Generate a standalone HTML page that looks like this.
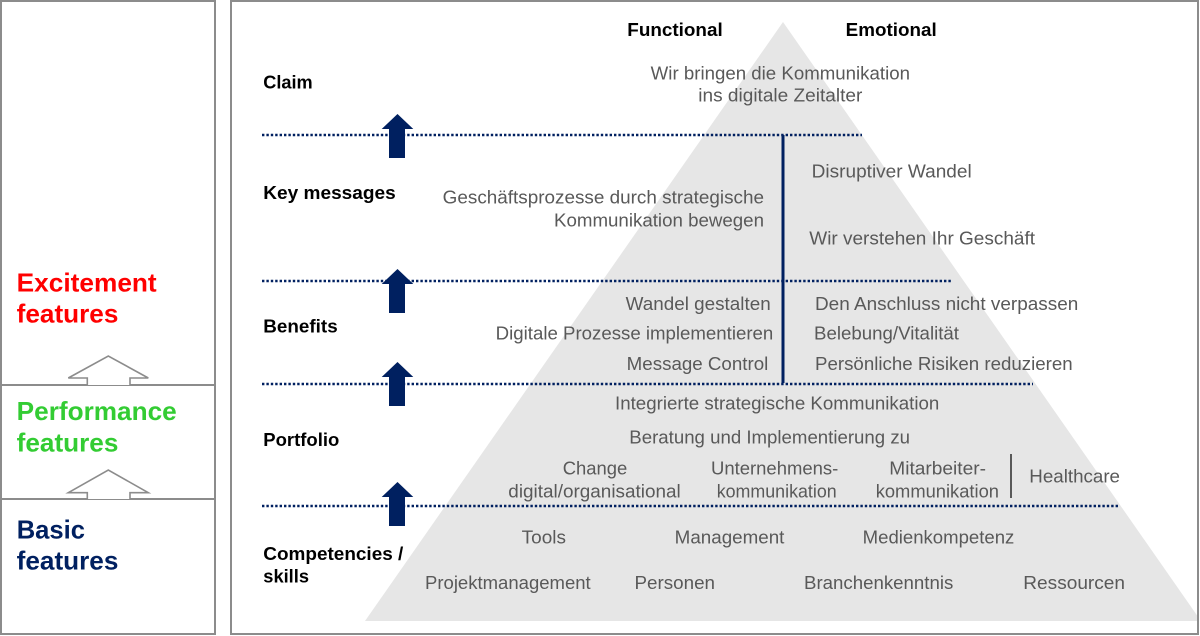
<!DOCTYPE html>
<html>
<head>
<meta charset="utf-8">
<style>
html,body{margin:0;padding:0;background:#fff;}
svg{display:block;}
text{font-family:"Liberation Sans",Arial,sans-serif;}
.g{fill:#595959;font-size:18.5px;}
.b{fill:#000;font-size:18.5px;font-weight:bold;}
.l{font-size:26px;font-weight:bold;}
</style>
</head>
<body>
<svg width="1200" height="636" viewBox="0 0 1200 636" xmlns="http://www.w3.org/2000/svg">
  <!-- triangle -->
  <polygon points="783,22 365,621 1201,621" fill="#e6e6e6"/>
  <rect x="1199" y="0" width="1" height="636" fill="#fff"/>

  <!-- frames -->
  <rect x="1" y="1" width="214" height="633" fill="none" stroke="#8c8c8c" stroke-width="2"/>
  <rect x="231" y="1" width="967" height="633" fill="none" stroke="#8c8c8c" stroke-width="2"/>

  <!-- left panel separators -->
  <line x1="1" y1="385" x2="215" y2="385" stroke="#8c8c8c" stroke-width="2"/>
  <line x1="1" y1="499" x2="215" y2="499" stroke="#8c8c8c" stroke-width="2"/>

  <!-- hollow arrows -->
  <polyline points="87.3,385 87.3,378 68.3,378 108.3,356 148.3,378 130,378 130,385" fill="#fff" stroke="#8c8c8c" stroke-width="1.6"/>
  <polyline points="87.3,499 87.3,492.7 68.3,492.7 108.3,470 148.3,492.7 130,492.7 130,499" fill="#fff" stroke="#8c8c8c" stroke-width="1.6"/>

  <!-- left labels -->
  <text class="l" x="16.7" y="291.7" fill="#ff0000" textLength="140" lengthAdjust="spacingAndGlyphs">Excitement</text>
  <text class="l" x="16.7" y="322.7" fill="#ff0000" textLength="101.7" lengthAdjust="spacingAndGlyphs">features</text>
  <text class="l" x="16.7" y="420" fill="#33cc33" textLength="160" lengthAdjust="spacingAndGlyphs">Performance</text>
  <text class="l" x="16.7" y="451.7" fill="#33cc33" textLength="101.7" lengthAdjust="spacingAndGlyphs">features</text>
  <text class="l" x="16.7" y="538.3" fill="#002060" textLength="68.3" lengthAdjust="spacingAndGlyphs">Basic</text>
  <text class="l" x="16.7" y="569.3" fill="#002060" textLength="101.7" lengthAdjust="spacingAndGlyphs">features</text>

  <!-- dotted lines -->
  <g stroke="#002060" stroke-width="2.6" stroke-dasharray="2.4,2">
    <line x1="262" y1="135" x2="862" y2="135"/>
    <line x1="262" y1="281" x2="952" y2="281"/>
    <line x1="262" y1="384" x2="1033" y2="384"/>
    <line x1="262" y1="506" x2="1119" y2="506"/>
  </g>

  <!-- vertical navy divider -->
  <line x1="783" y1="135" x2="783" y2="383" stroke="#002060" stroke-width="3"/>
  <!-- small gray divider -->
  <line x1="1011" y1="454" x2="1011" y2="498" stroke="#595959" stroke-width="2"/>

  <!-- navy arrows -->
  <g fill="#002060">
    <polygon points="397.5,114 413.3,129 405,129 405,158 389,158 389,129 381.7,129"/>
    <polygon points="397.5,269 413.3,284 405,284 405,313 389,313 389,284 381.7,284"/>
    <polygon points="397.5,362 413.3,377 405,377 405,406 389,406 389,377 381.7,377"/>
    <polygon points="397.5,482 413.3,497 405,497 405,526 389,526 389,497 381.7,497"/>
  </g>

  <!-- bold headings -->
  <text class="b" x="627.3" y="36" textLength="95.4" lengthAdjust="spacingAndGlyphs">Functional</text>
  <text class="b" x="845.7" y="36" textLength="91" lengthAdjust="spacingAndGlyphs">Emotional</text>
  <text class="b" x="263.3" y="88.3" textLength="49.4" lengthAdjust="spacingAndGlyphs">Claim</text>
  <text class="b" x="263.3" y="199" textLength="132.4" lengthAdjust="spacingAndGlyphs">Key messages</text>
  <text class="b" x="263.3" y="332.7" textLength="74.4" lengthAdjust="spacingAndGlyphs">Benefits</text>
  <text class="b" x="263.3" y="446" textLength="76" lengthAdjust="spacingAndGlyphs">Portfolio</text>
  <text class="b" x="263.3" y="560" textLength="140" lengthAdjust="spacingAndGlyphs">Competencies /</text>
  <text class="b" x="263.3" y="582.7" textLength="45.7" lengthAdjust="spacingAndGlyphs">skills</text>

  <!-- gray text -->
  <text class="g" x="650.7" y="79.3" textLength="259.3" lengthAdjust="spacingAndGlyphs">Wir bringen die Kommunikation</text>
  <text class="g" x="698.3" y="101.7" textLength="164" lengthAdjust="spacingAndGlyphs">ins digitale Zeitalter</text>

  <text class="g" x="442.7" y="203.3" textLength="321.3" lengthAdjust="spacingAndGlyphs">Geschäftsprozesse durch strategische</text>
  <text class="g" x="554" y="226.7" textLength="210" lengthAdjust="spacingAndGlyphs">Kommunikation bewegen</text>
  <text class="g" x="811.7" y="177.7" textLength="160" lengthAdjust="spacingAndGlyphs">Disruptiver Wandel</text>
  <text class="g" x="809.3" y="244.3" textLength="225.7" lengthAdjust="spacingAndGlyphs">Wir verstehen Ihr Geschäft</text>

  <text class="g" x="625.7" y="310" textLength="145" lengthAdjust="spacingAndGlyphs">Wandel gestalten</text>
  <text class="g" x="495.7" y="339.3" textLength="277.6" lengthAdjust="spacingAndGlyphs">Digitale Prozesse implementieren</text>
  <text class="g" x="626.7" y="370" textLength="141.6" lengthAdjust="spacingAndGlyphs">Message Control</text>
  <text class="g" x="815" y="310" textLength="263.3" lengthAdjust="spacingAndGlyphs">Den Anschluss nicht verpassen</text>
  <text class="g" x="814" y="339.3" textLength="145" lengthAdjust="spacingAndGlyphs">Belebung/Vitalität</text>
  <text class="g" x="815" y="370" textLength="257.7" lengthAdjust="spacingAndGlyphs">Persönliche Risiken reduzieren</text>

  <text class="g" x="615" y="409.3" textLength="324.3" lengthAdjust="spacingAndGlyphs">Integrierte strategische Kommunikation</text>
  <text class="g" x="629.3" y="443.3" textLength="280.7" lengthAdjust="spacingAndGlyphs">Beratung und Implementierung zu</text>
  <text class="g" x="562.7" y="474.3" textLength="64.6" lengthAdjust="spacingAndGlyphs">Change</text>
  <text class="g" x="508.3" y="497.3" textLength="172.4" lengthAdjust="spacingAndGlyphs">digital/organisational</text>
  <text class="g" x="711" y="474.3" textLength="127.3" lengthAdjust="spacingAndGlyphs">Unternehmens-</text>
  <text class="g" x="716.7" y="497.3" textLength="120" lengthAdjust="spacingAndGlyphs">kommunikation</text>
  <text class="g" x="889.3" y="474.3" textLength="96.7" lengthAdjust="spacingAndGlyphs">Mitarbeiter-</text>
  <text class="g" x="875.7" y="497.3" textLength="123.3" lengthAdjust="spacingAndGlyphs">kommunikation</text>
  <text class="g" x="1029.3" y="482.7" textLength="90.7" lengthAdjust="spacingAndGlyphs">Healthcare</text>

  <text class="g" x="521.7" y="543.3" textLength="44.3" lengthAdjust="spacingAndGlyphs">Tools</text>
  <text class="g" x="674.7" y="543.3" textLength="109.7" lengthAdjust="spacingAndGlyphs">Management</text>
  <text class="g" x="862.7" y="543.3" textLength="151.6" lengthAdjust="spacingAndGlyphs">Medienkompetenz</text>
  <text class="g" x="425" y="589" textLength="165.7" lengthAdjust="spacingAndGlyphs">Projektmanagement</text>
  <text class="g" x="634.5" y="589" textLength="80.5" lengthAdjust="spacingAndGlyphs">Personen</text>
  <text class="g" x="804" y="589" textLength="149.3" lengthAdjust="spacingAndGlyphs">Branchenkenntnis</text>
  <text class="g" x="1023.3" y="589" textLength="101.7" lengthAdjust="spacingAndGlyphs">Ressourcen</text>
</svg>
</body>
</html>
